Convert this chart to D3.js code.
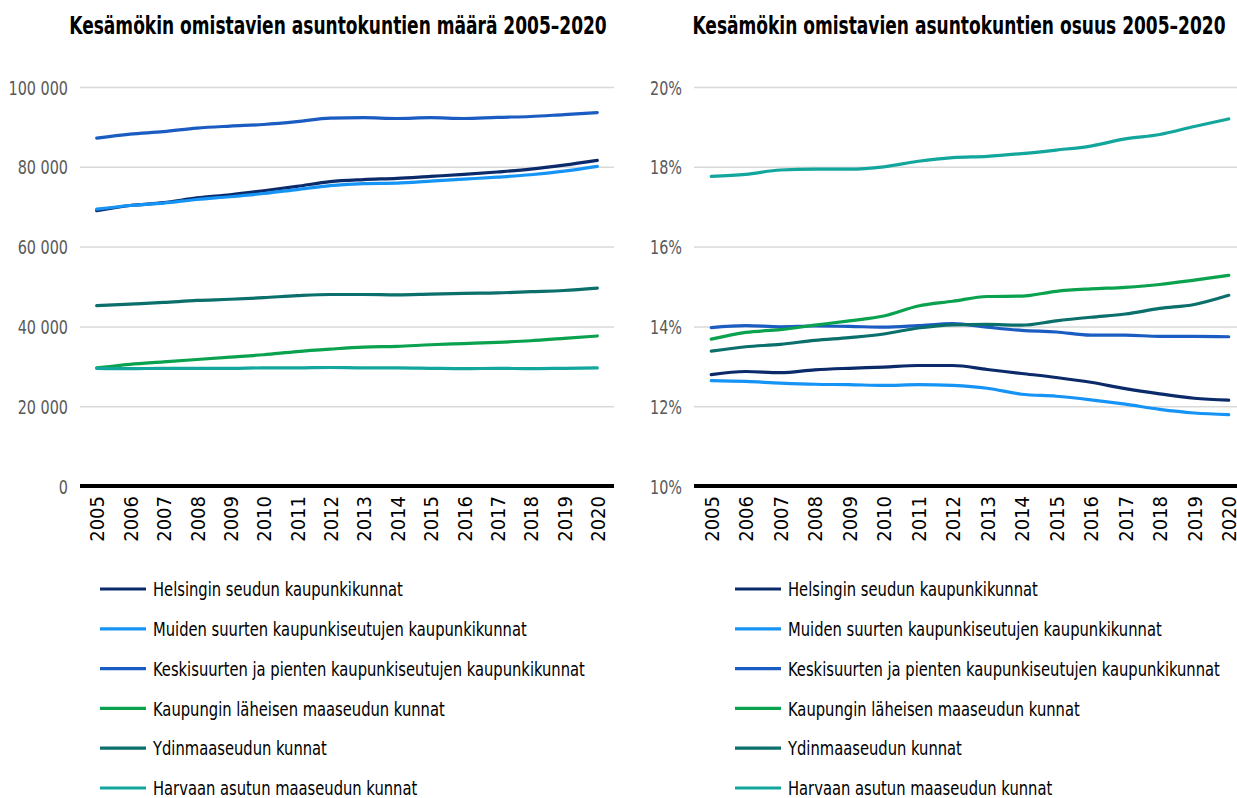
<!DOCTYPE html>
<html><head><meta charset="utf-8">
<script src="https://cdn.jsdelivr.net/npm/d3@7"></script>
<style>
body{margin:0;background:#fff;}
svg{display:block;font-family:"DejaVu Sans Condensed","DejaVu Sans",sans-serif;}
</style></head>
<body>
<svg id="c" width="1237" height="798"></svg>
<script>
const years = ["2005","2006","2007","2008","2009","2010","2011","2012","2013","2014","2015","2016","2017","2018","2019","2020"];
const seriesNames = [
  "Helsingin seudun kaupunkikunnat",
  "Muiden suurten kaupunkiseutujen kaupunkikunnat",
  "Keskisuurten ja pienten kaupunkiseutujen kaupunkikunnat",
  "Kaupungin läheisen maaseudun kunnat",
  "Ydinmaaseudun kunnat",
  "Harvaan asutun maaseudun kunnat"
];
const colors = ["#0b2a6a","#1694f5","#1b5cc2","#0aa24e","#0b6f6c","#12a69d"];

// Left chart: number of households
const countHelsinki   = [69000,70300,71000,72200,73000,74000,75100,76300,76800,77100,77600,78100,78700,79400,80400,81600];
const countMuiden     = [69400,70300,70900,71800,72500,73300,74300,75300,75800,75900,76400,76900,77400,78000,78900,80100];
const countKeskisuuri = [87200,88200,88800,89700,90200,90600,91300,92200,92300,92100,92300,92100,92400,92600,93100,93600];
const countLaheinen   = [29600,30500,31100,31700,32300,32900,33700,34300,34800,35000,35400,35700,36000,36400,37000,37600];
const countYdin       = [45200,45600,46000,46500,46800,47200,47700,48000,48000,47900,48100,48300,48400,48700,49000,49600];
const countHarva      = [29500,29400,29500,29500,29500,29600,29600,29700,29600,29600,29500,29400,29500,29400,29500,29600];

// Right chart: share of households (%)
const shareHelsinki   = [12.79,12.87,12.84,12.91,12.95,12.98,13.02,13.02,12.92,12.82,12.72,12.60,12.44,12.31,12.20,12.15];
const shareMuiden     = [12.64,12.62,12.58,12.55,12.54,12.52,12.54,12.52,12.45,12.30,12.25,12.16,12.05,11.92,11.83,11.79];
const shareKeskisuuri = [13.97,14.02,13.99,14.01,14.00,13.98,14.02,14.07,13.98,13.90,13.86,13.78,13.78,13.75,13.75,13.74];
const shareLaheinen   = [13.68,13.85,13.92,14.03,14.14,14.26,14.51,14.63,14.75,14.76,14.88,14.94,14.98,15.05,15.16,15.28];
const shareYdin       = [13.38,13.49,13.55,13.65,13.72,13.81,13.96,14.04,14.05,14.03,14.14,14.23,14.31,14.45,14.55,14.78];
const shareHarva      = [17.76,17.81,17.92,17.94,17.94,18.00,18.14,18.23,18.26,18.33,18.42,18.52,18.70,18.81,19.01,19.20];

const countTicks = [0,20000,40000,60000,80000,100000];
const shareTicks = [10,12,14,16,18,20];

const FONT = "DejaVu Sans Condensed, DejaVu Sans, sans-serif";
const svg = d3.select("#c");

// squeeze text horizontally (along its baseline) about its anchor point, to mimic a narrower typeface
function condense(sel, f){
  sel.each(function(){
    const ax = +(this.getAttribute("x") || 0);
    const ay = +(this.getAttribute("y") || 0);
    const t = this.getAttribute("transform") || "";
    this.setAttribute("transform", `${t} translate(${ax},${ay}) scale(${f},1) translate(${-ax},${-ay})`);
  });
}

function panel(cfg){
  const g = svg.append("g");
  const x = d3.scalePoint().domain(years).range([cfg.x0, cfg.x1]).padding(0.5);
  const y = d3.scaleLinear().domain(cfg.domain).range([486, 87]);
  const xr = Math.min(cfg.x1, 1237);

  // title
  g.append("text").attr("x", cfg.titleX).attr("y", 34).attr("text-anchor","middle")
    .attr("font-family",FONT).attr("font-weight","bold").attr("font-size", 24).attr("fill","#000").text(cfg.title)
    .call(condense, 0.79);

  // gridlines + y labels
  const yAxis = d3.axisLeft(y).tickValues(cfg.ticks).tickSize(-(xr - cfg.x0)).tickPadding(12).tickFormat(cfg.fmt);
  const ya = g.append("g").attr("transform",`translate(${cfg.x0},0)`).call(yAxis);
  ya.select(".domain").remove();
  ya.selectAll(".tick line").attr("stroke","#d9d9d9").attr("stroke-width",1.5);
  ya.selectAll(".tick text").attr("font-size",20).attr("fill","#595959")
    .attr("font-family",FONT).attr("dy","0.35em");
  condense(ya.selectAll(".tick text"), 0.8);
  ya.selectAll(".tick").filter(d => d === cfg.domain[0]).select("line").remove();

  // lines
  const line = d3.line().x((d,i)=>x(years[i])).y(d=>y(d)).curve(d3.curveMonotoneX);
  cfg.data.forEach((s,i)=>{
    g.append("path").datum(s).attr("fill","none").attr("stroke",colors[i])
      .attr("stroke-width",3.2).attr("stroke-linecap","round").attr("d",line);
  });

  // x axis
  const xAxis = d3.axisBottom(x).tickSize(0).tickPadding(0);
  const xa = g.append("g").attr("transform","translate(0,486)").call(xAxis);
  xa.select(".domain").attr("stroke","#000").attr("stroke-width",4)
    .attr("d",`M${cfg.x0},0H${xr}`);
  xa.selectAll(".tick text").attr("font-size",20).attr("fill","#000")
    .attr("font-family",FONT)
    .attr("transform","rotate(-90)").attr("text-anchor","end")
    .attr("x",-10).attr("y",0).attr("dy","0.36em");

  // legend
  const lg = g.append("g");
  seriesNames.forEach((n,i)=>{
    const yy = 589 + i*39.8;
    lg.append("line").attr("x1",cfg.legX).attr("x2",cfg.legX+46).attr("y1",yy).attr("y2",yy)
      .attr("stroke",colors[i]).attr("stroke-width",3.2);
    lg.append("text").attr("x",cfg.legX+53).attr("y",yy).attr("dy","0.36em")
      .attr("font-family",FONT).attr("font-size",20).attr("fill","#000").text(n).call(condense, 0.82);
  });
}

panel({
  title:"Kesämökin omistavien asuntokuntien määrä 2005–2020", titleX:338,
  x0:80, x1:614, domain:[0,100000], ticks:countTicks,
  fmt:d=>d3.format(",")(d).replace(/,/g," "),
  data:[countHelsinki,countMuiden,countKeskisuuri,countLaheinen,countYdin,countHarva],
  legX:100
});
panel({
  title:"Kesämökin omistavien asuntokuntien osuus 2005–2020", titleX:959,
  x0:694, x1:1246, domain:[10,20], ticks:shareTicks,
  fmt:d=>d+"%",
  data:[shareHelsinki,shareMuiden,shareKeskisuuri,shareLaheinen,shareYdin,shareHarva],
  legX:735
});
</script>
</body></html>
